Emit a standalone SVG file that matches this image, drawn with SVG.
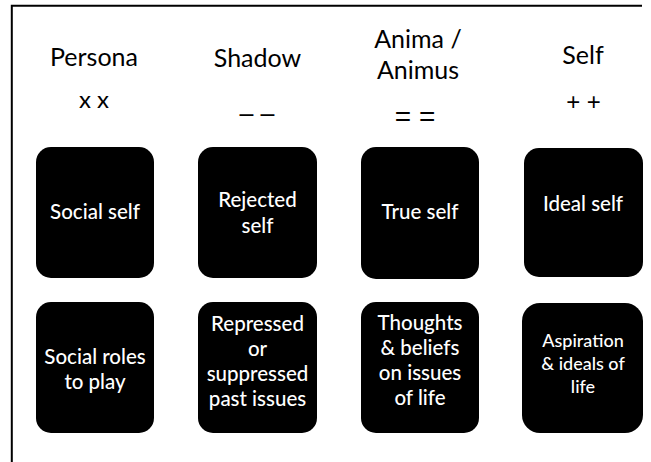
<svg xmlns="http://www.w3.org/2000/svg" width="651" height="462" viewBox="0 0 651 462">
<style>
  .frame { fill: none; stroke: #000; stroke-width: 2; }
  .box { fill: #000; }
  .hd { font-family: Lato, "Liberation Sans", sans-serif; font-size: 25px; fill: #000; text-anchor: middle; }
  .sym { font-family: Lato, "Liberation Sans", sans-serif; font-size: 24px; fill: #000; text-anchor: middle; }
  .sym2 { font-family: "Liberation Sans", Arial, sans-serif; fill: #000; text-anchor: middle; }
  .bt { font-family: Lato, "Liberation Sans", sans-serif; font-size: 20.5px; font-weight: 500; fill: #fff; text-anchor: middle; }
  .bs { font-family: Lato, "Liberation Sans", sans-serif; font-size: 18px; font-weight: 500; fill: #fff; text-anchor: middle; }
</style>
<rect width="651" height="462" fill="#fff"/>
<path class="frame" d="M11.8,462 V5.7 H642"/>

<g id="header-persona">
  <text class="hd" x="94" y="66">Persona</text>
  <text class="sym" x="94" y="108">x x</text>
</g>
<g id="header-shadow">
  <text class="hd" x="257.5" y="67">Shadow</text>
  <text class="sym2" x="257" y="122" font-size="25">– –</text>
</g>
<g id="header-anima">
  <text class="hd" x="418" y="48">Anima /</text>
  <text class="hd" x="418" y="79">Animus</text>
  <text class="sym2" x="415" y="126" font-size="28">= =</text>
</g>
<g id="header-self">
  <text class="hd" x="583" y="64">Self</text>
  <text class="sym2" x="583.5" y="110" font-size="24">+ +</text>
</g>

<g id="social-self">
  <rect class="box" x="36" y="147" width="118" height="131" rx="15"/>
  <text class="bt" x="95" y="219">Social self</text>
</g>
<g id="rejected-self">
  <rect class="box" x="198" y="147" width="119" height="131" rx="15"/>
  <text class="bt" x="257.5" y="207">Rejected</text>
  <text class="bt" x="257.5" y="233">self</text>
</g>
<g id="true-self">
  <rect class="box" x="361" y="147" width="118" height="132" rx="15"/>
  <text class="bt" x="420" y="219">True self</text>
</g>
<g id="ideal-self">
  <rect class="box" x="524" y="148" width="119" height="129" rx="15"/>
  <text class="bt" x="583" y="211">Ideal self</text>
</g>

<g id="social-roles">
  <rect class="box" x="36" y="302" width="118" height="131" rx="15"/>
  <text class="bt" x="95" y="364">Social roles</text>
  <text class="bt" x="95" y="389">to play</text>
</g>
<g id="repressed">
  <rect class="box" x="198" y="302" width="119" height="131" rx="15"/>
  <text class="bt" x="257.5" y="330.5">Repressed</text>
  <text class="bt" x="257.5" y="355.5">or</text>
  <text class="bt" x="257.5" y="380.5">suppressed</text>
  <text class="bt" x="257.5" y="405.5">past issues</text>
</g>
<g id="thoughts">
  <rect class="box" x="361" y="302" width="118" height="131" rx="15"/>
  <text class="bt" x="420" y="330">Thoughts</text>
  <text class="bt" x="420" y="355">&amp; beliefs</text>
  <text class="bt" x="420" y="380">on issues</text>
  <text class="bt" x="420" y="405">of life</text>
</g>
<g id="aspiration">
  <rect class="box" x="522" y="303" width="121" height="130" rx="18"/>
  <text class="bs" x="583" y="347">Aspiration</text>
  <text class="bs" x="583" y="370">&amp; ideals of</text>
  <text class="bs" x="583" y="392.5">life</text>
</g>
<g id="connectors"></g>
</svg>
